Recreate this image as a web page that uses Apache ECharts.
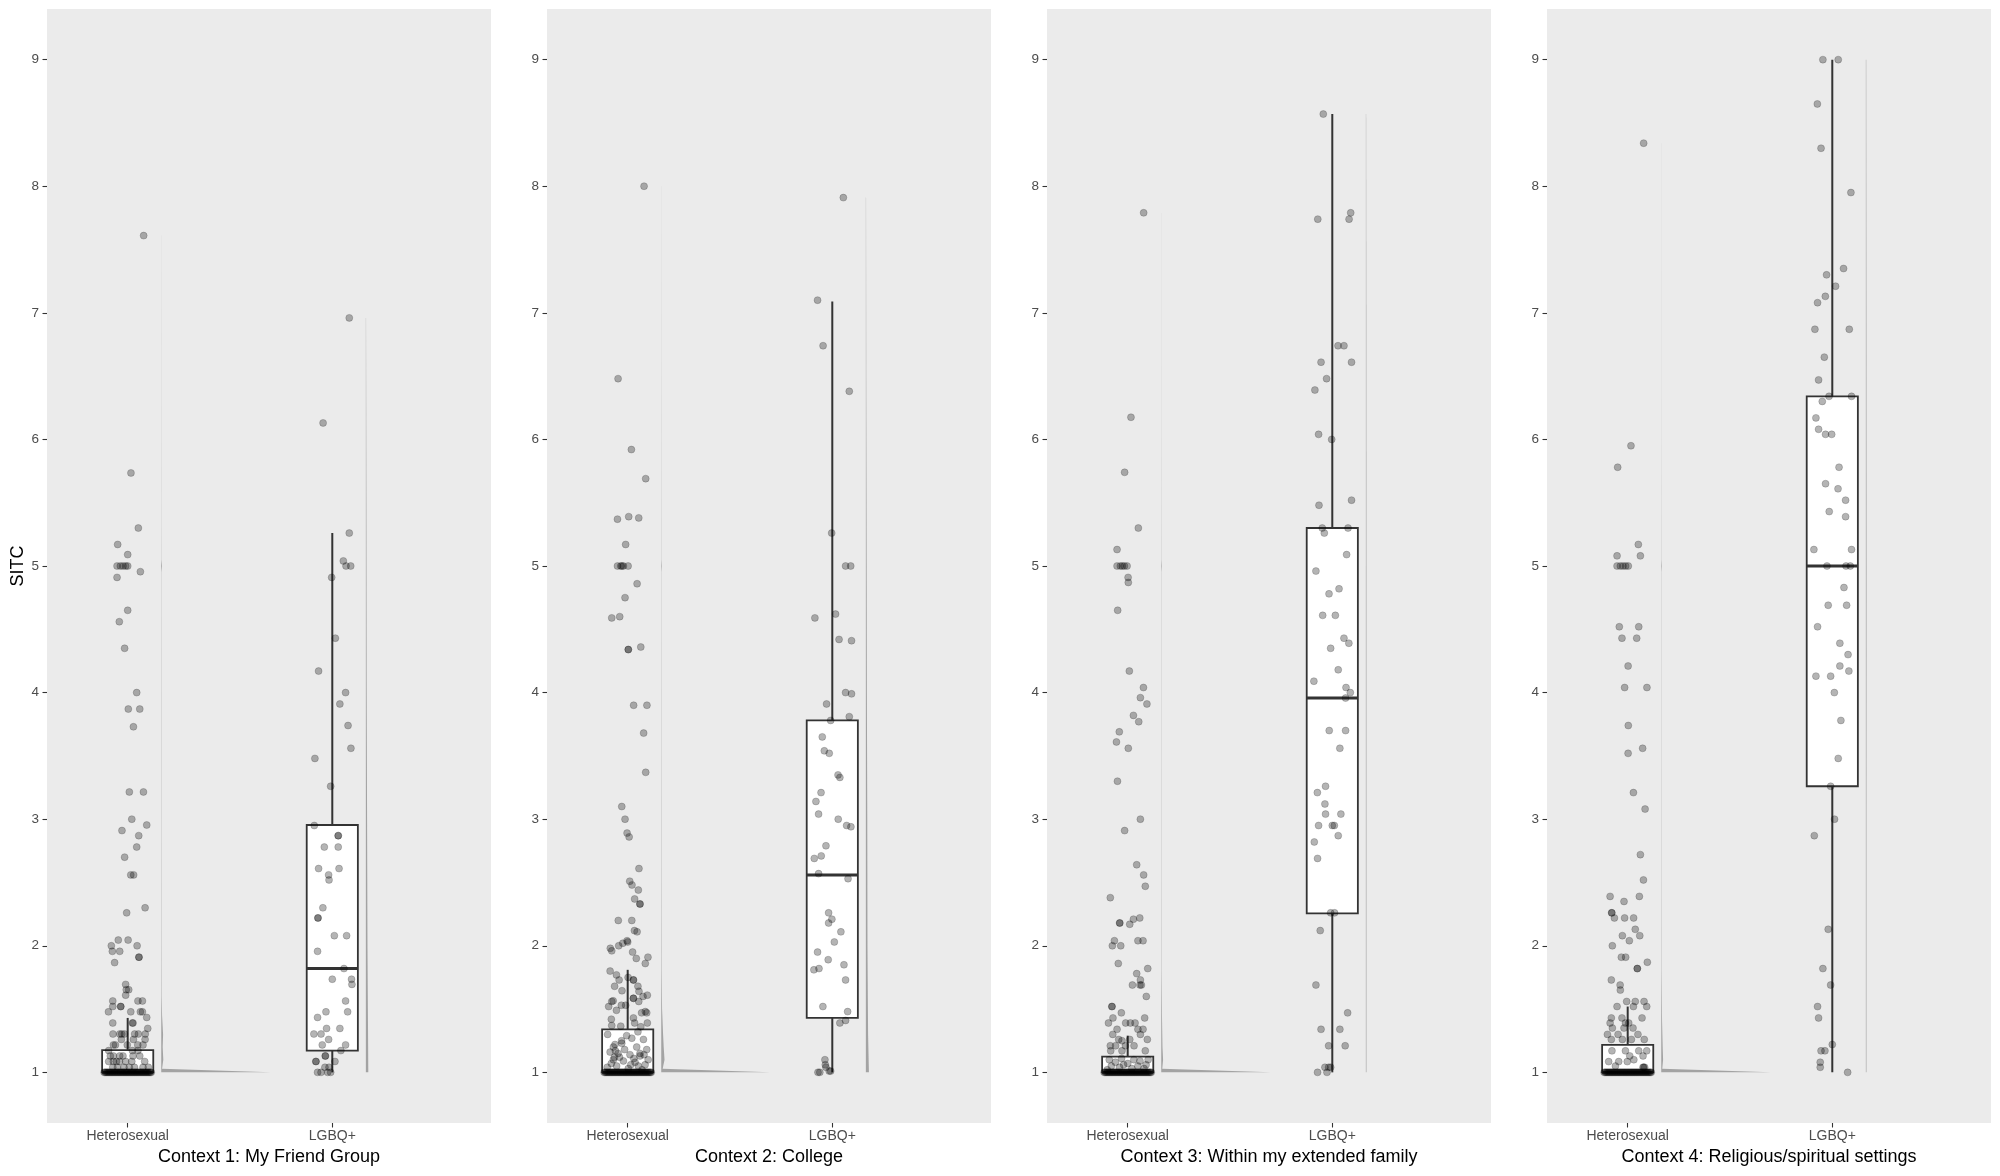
<!DOCTYPE html>
<html><head><meta charset="utf-8">
<script src="https://cdn.jsdelivr.net/npm/echarts@6/dist/echarts.min.js"></script>
<style>html,body{margin:0;padding:0;background:#fff}#c{width:2000px;height:1176px}</style>
</head><body><div id="c"></div><script>
const categories = ['Heterosexual', 'LGBQ+'];
const contexts = ['Context 1: My Friend Group', 'Context 2: College', 'Context 3: Within my extended family', 'Context 4: Religious/spiritual settings'];
const yTicks = [1, 2, 3, 4, 5, 6, 7, 8, 9];
const yLabel = 'SITC';

// boxplot stats [min, q1, median, q3, max] per context
const hetBox = [[1, 1, 1, 1.175, 1.43], [1, 1, 1, 1.34, 1.81], [1, 1, 1, 1.125, 1.29], [1, 1, 1, 1.217, 1.52]];
const lgbBox = [[1, 1.172, 1.82, 2.954, 5.26], [1, 1.43, 2.56, 3.78, 7.09], [1, 2.256, 3.957, 5.30, 8.57], [1, 3.26, 5.0, 6.34, 9.0]];

// jittered points: [jitter, value]
const tiesAtOne = [-0.115,-0.105,-0.095,-0.085,-0.075,-0.065,-0.055,-0.045,-0.035,-0.025,-0.015,-0.005,0.005,0.015,0.025,0.035,0.045,0.055,0.065,0.075,0.085,0.095,0.105,0.115,
  -0.11,-0.1,-0.09,-0.08,-0.07,-0.06,-0.05,-0.04,-0.03,-0.02,-0.01,0,0.01,0.02,0.03,0.04,0.05,0.06,0.07,0.08,0.09,0.1,0.11];

const het1 = [[0.078,7.61],[0.016,5.735],[0.052,5.30],[-0.049,5.17],[0.00,5.09],[-0.052,5.0],[-0.036,5.0],[-0.023,5.0],[-0.01,5.0],[0.0,5.0],[0.062,4.955],[-0.052,4.91],[0.0,4.65],[-0.041,4.56],[-0.015,4.35],[0.044,4.0],[0.003,3.87],[0.059,3.87],[0.028,3.73],[0.008,3.215],[0.077,3.215],[0.02,3.0],[0.093,2.954],[-0.028,2.91],[0.054,2.87],[0.044,2.78],[-0.015,2.70],[0.015,2.56],[0.029,2.56],[0.085,2.30],[-0.005,2.26],[-0.046,2.045],[0.002,2.045],[-0.08,2.0],[0.046,2.0],[-0.075,1.956],[-0.039,1.956],[0.055,1.91],[0.055,1.91],[-0.064,1.867],[-0.01,1.695],[0.005,1.653],[-0.007,1.653],[-0.01,1.61],[-0.073,1.564],[0.05,1.564],[0.072,1.564],[-0.034,1.52],[-0.034,1.52],[-0.073,1.52],[-0.094,1.478],[0.015,1.478],[0.062,1.478],[0.072,1.478],[0.093,1.434],[-0.073,1.39],[0.023,1.39],[0.026,1.39],[0.098,1.347],
  [-0.072,1.303],[-0.039,1.303],[-0.029,1.303],[-0.016,1.303],[0.034,1.303],[0.052,1.303],[0.086,1.303],[-0.031,1.26],[0.028,1.26],[0.085,1.26],[-0.07,1.217],[-0.06,1.217],[-0.002,1.217],[0.049,1.217],[0.075,1.217],[-0.093,1.172],[0.023,1.172],[0.05,1.172],
  [-0.085,1.13],[-0.039,1.13],[-0.023,1.13],[0.026,1.13],[0.059,1.13],[-0.07,1.13],[-0.093,1.086],[-0.055,1.086],[-0.01,1.086],[0.02,1.086],[0.083,1.086],[-0.07,1.086],[-0.04,1.086],[-0.073,1.04],[-0.018,1.04],[0.008,1.04],[0.033,1.04],[0.075,1.04],[0.101,1.04],[-0.05,1.04]];
const lgb1 = [[0.083,6.96],[-0.045,6.13],[0.083,5.26],[0.054,5.04],[0.067,5.0],[0.09,5.0],[-0.003,4.91],[0.015,4.43],[-0.067,4.17],[0.065,4.0],[0.037,3.91],[0.077,3.74],[0.091,3.56],[-0.085,3.48],[-0.008,3.26],[-0.088,2.95],[0.029,2.87],[0.029,2.87],[-0.039,2.78],[0.029,2.78],[-0.067,2.61],[-0.018,2.56],[-0.016,2.52],[0.033,2.61],[-0.046,2.30],[-0.07,2.22],[-0.07,2.22],[0.01,2.08],[0.07,2.08],[-0.072,1.956],[0.057,1.82],[0.0,1.736],[0.094,1.736],[0.096,1.695],[0.065,1.564],[-0.031,1.478],[0.075,1.478],[-0.072,1.434],[-0.028,1.347],[0.037,1.347],[-0.09,1.303],[-0.055,1.303],[-0.018,1.26],[-0.049,1.217],[0.065,1.217],[0.042,1.172],[-0.034,1.13],[-0.034,1.13],[-0.08,1.086],[-0.08,1.086],[0.013,1.086],[-0.036,1.04],[-0.016,1.04],[-0.072,1.0],[-0.055,1.0],[-0.023,1.0],[-0.008,1.0]];

const het2 = [[0.08,8.0],[-0.047,6.48],[0.018,5.92],[0.088,5.69],[-0.05,5.37],[0.005,5.39],[0.054,5.38],[-0.01,5.17],[-0.05,5.0],[-0.034,5.0],[-0.028,5.0],[-0.021,5.0],[0.002,5.0],[0.046,4.86],[-0.013,4.75],[-0.078,4.59],[-0.039,4.60],[0.003,4.34],[0.003,4.34],[0.064,4.36],[0.029,3.90],[0.094,3.90],[0.078,3.68],[0.088,3.37],[-0.029,3.10],[-0.013,3.0],[-0.003,2.89],[0.007,2.86],[0.055,2.61],[0.01,2.51],[0.021,2.48],[0.052,2.44],[0.034,2.37],[0.06,2.33],[0.06,2.33],[-0.046,2.20],[0.02,2.20],[0.033,2.12],[0.046,2.11],[-0.085,1.98],[-0.078,1.96],[-0.044,2.0],[-0.024,2.02],[-0.003,2.04],[0.0,2.03],[0.024,1.95],[0.042,1.90],[0.086,1.86],[0.099,1.91],[-0.086,1.80],[-0.055,1.77],[-0.042,1.73],[0.002,1.75],[0.028,1.73],[0.028,1.73],[0.05,1.68],[-0.064,1.68],[-0.028,1.645],[0.055,1.64],[0.096,1.61],[-0.078,1.56],[-0.071,1.565],[-0.093,1.52],[-0.031,1.53],[-0.01,1.53],[0.028,1.585],[0.028,1.585],[0.054,1.56],[0.075,1.6],[-0.055,1.49],[0.068,1.47],[0.086,1.48],[0.093,1.47],[-0.08,1.42],[-0.078,1.37],[-0.034,1.365],[0.028,1.43],[0.034,1.39],[0.096,1.39],[0.064,1.36],
  [-0.098,1.30],[-0.005,1.29],[0.02,1.27],[0.077,1.26],[-0.062,1.22],[-0.029,1.23],[0.044,1.2],[0.093,1.18],[-0.086,1.16],[-0.047,1.15],[0.011,1.14],[0.06,1.13],[-0.07,1.1],[-0.021,1.09],[0.036,1.08],[0.085,1.06],[-0.054,1.05],[0.003,1.03],[0.052,1.05],[-0.07,1.2],[-0.06,1.17],[0.06,1.15],[-0.04,1.12],[0.03,1.11],[-0.08,1.07],[0.1,1.1],[-0.1,1.04],[0.07,1.02],[-0.03,1.25],[0.05,1.32],[-0.065,1.12],[0.015,1.06],[0.08,1.14],[-0.015,1.18]];
const lgb2 = [[0.054,7.91],[-0.072,7.10],[-0.045,6.74],[0.083,6.38],[-0.003,5.26],[0.065,5.0],[0.09,5.0],[-0.085,4.59],[0.016,4.62],[0.033,4.42],[0.094,4.41],[0.065,4.0],[0.094,3.99],[-0.028,3.91],[-0.008,3.78],[0.083,3.81],[-0.049,3.65],[-0.039,3.54],[-0.015,3.52],[0.028,3.35],[0.037,3.33],[-0.055,3.21],[-0.08,3.14],[-0.067,3.04],[0.029,3.0],[0.07,2.95],[0.091,2.94],[-0.031,2.79],[-0.054,2.71],[-0.088,2.69],[-0.067,2.57],[0.077,2.53],[-0.018,2.26],[-0.018,2.18],[-0.002,2.21],[0.042,2.11],[0.01,2.03],[-0.072,1.95],[-0.02,1.89],[0.057,1.85],[-0.09,1.81],[-0.065,1.82],[0.065,1.73],[-0.046,1.52],[0.075,1.48],[0.037,1.39],[0.065,1.41],[-0.036,1.1],[-0.034,1.06],[-0.031,1.04],[-0.015,1.01],[-0.008,1.01],[-0.07,1.0],[-0.061,1.0]];

const het3 = [[0.078,7.79],[0.016,6.175],[-0.015,5.74],[0.052,5.30],[-0.052,5.13],[-0.052,5.0],[-0.036,5.0],[-0.026,5.0],[-0.016,5.0],[-0.003,5.0],[0.002,4.91],[0.003,4.87],[-0.049,4.65],[0.008,4.17],[0.077,4.04],[0.062,3.96],[0.094,3.91],[0.028,3.82],[0.054,3.77],[-0.041,3.69],[-0.055,3.61],[0.003,3.56],[-0.05,3.30],[0.062,3.0],[-0.015,2.91],[0.044,2.64],[0.078,2.56],[0.086,2.47],[-0.085,2.38],[-0.039,2.18],[-0.039,2.18],[0.028,2.21],[0.059,2.22],[0.01,2.17],[-0.065,2.04],[-0.075,2.0],[-0.034,2.0],[0.05,2.04],[0.075,2.04],[-0.046,1.86],[0.044,1.78],[0.098,1.82],[0.023,1.69],[0.06,1.69],[0.067,1.69],[0.062,1.73],[0.091,1.60],[-0.077,1.52],[-0.077,1.52],[-0.072,1.43],[-0.031,1.47],[-0.094,1.39],[-0.01,1.39],[0.013,1.39],[0.036,1.39],[0.083,1.43],[-0.052,1.34],[0.05,1.34],[0.062,1.30],[0.075,1.34],[-0.073,1.30],[0.096,1.26],[-0.044,1.26],[-0.028,1.25],[0.01,1.26],[-0.085,1.21],[-0.059,1.21],[-0.011,1.21],[0.031,1.21],[-0.083,1.17],[-0.028,1.17],[0.086,1.17],
  [-0.09,1.1],[-0.06,1.08],[-0.03,1.11],[0.0,1.07],[0.03,1.1],[0.06,1.09],[0.09,1.06],[-0.08,1.05],[-0.04,1.04],[0.02,1.03],[0.05,1.05],[0.08,1.03],[-0.1,1.02],[0.1,1.1],[-0.02,1.06]];
const lgb3 = [[-0.044,8.57],[-0.071,7.74],[0.082,7.74],[0.09,7.79],[0.028,6.74],[0.057,6.74],[-0.055,6.61],[0.094,6.61],[-0.028,6.48],[-0.085,6.39],[-0.067,6.04],[-0.003,6.0],[0.094,5.52],[-0.065,5.48],[-0.049,5.30],[-0.039,5.26],[0.077,5.30],[0.07,5.09],[-0.08,4.96],[-0.016,4.78],[0.033,4.82],[-0.047,4.61],[0.015,4.61],[0.057,4.43],[0.081,4.39],[-0.008,4.35],[0.029,4.18],[-0.09,4.09],[0.067,4.04],[0.088,4.0],[0.065,3.957],[-0.015,3.70],[0.065,3.70],[0.037,3.56],[-0.033,3.26],[-0.073,3.21],[-0.036,3.12],[-0.033,3.04],[0.042,3.04],[-0.067,2.95],[0.0,2.95],[0.01,2.95],[0.029,2.87],[-0.088,2.82],[-0.072,2.69],[-0.008,2.26],[0.011,2.26],[-0.059,2.12],[-0.08,1.69],[0.075,1.47],[-0.055,1.34],[0.037,1.34],[-0.018,1.21],[0.063,1.21],[-0.036,1.04],[-0.018,1.04],[-0.008,1.04],[-0.072,1.0],[-0.026,1.0]];

const het4 = [[0.078,8.34],[0.016,5.95],[-0.049,5.78],[0.052,5.17],[-0.052,5.08],[0.062,5.08],[-0.052,5.0],[-0.036,5.0],[-0.023,5.0],[-0.01,5.0],[0.003,5.0],[-0.041,4.52],[0.054,4.52],[-0.028,4.43],[0.044,4.43],[0.002,4.21],[-0.015,4.04],[0.094,4.04],[0.003,3.74],[0.002,3.52],[0.073,3.56],[0.028,3.21],[0.085,3.08],[0.062,2.72],[0.077,2.52],[-0.086,2.39],[-0.018,2.35],[0.057,2.39],[-0.078,2.26],[-0.078,2.26],[-0.065,2.22],[-0.015,2.22],[0.029,2.22],[0.037,2.13],[-0.026,2.08],[0.008,2.04],[0.059,2.08],[-0.075,2.0],[-0.031,1.91],[-0.01,1.91],[0.047,1.82],[0.047,1.82],[0.096,1.87],[-0.08,1.73],[-0.037,1.69],[-0.036,1.65],[-0.052,1.52],[-0.005,1.56],[0.037,1.56],[0.08,1.56],[0.093,1.52],[0.028,1.52],[0.07,1.43],[-0.08,1.43],[-0.028,1.43],[-0.086,1.39],[-0.075,1.35],[-0.018,1.35],[0.026,1.35],[0.005,1.39],[-0.011,1.39],
  [-0.08,1.26],[-0.026,1.26],[0.018,1.26],[0.081,1.26],[-0.099,1.30],[-0.047,1.30],[0.05,1.30],[-0.077,1.17],[-0.011,1.17],[0.054,1.17],[0.093,1.17],[0.01,1.13],[0.075,1.13],[-0.093,1.085],[-0.044,1.085],[-0.002,1.085],[0.078,1.04],[0.075,1.04],[0.083,1.04],[-0.06,1.05],[0.03,1.1]];
const lgb4 = [[-0.046,9.0],[0.029,9.0],[-0.073,8.65],[-0.055,8.30],[0.091,7.95],[-0.028,7.30],[0.055,7.35],[0.016,7.21],[-0.034,7.13],[-0.072,7.08],[-0.085,6.87],[0.083,6.87],[-0.039,6.65],[-0.067,6.47],[-0.016,6.34],[0.094,6.34],[-0.049,6.30],[-0.08,6.17],[-0.067,6.08],[-0.033,6.04],[-0.003,6.04],[0.033,5.78],[-0.033,5.65],[0.028,5.61],[0.065,5.52],[-0.015,5.43],[0.065,5.39],[-0.09,5.13],[0.094,5.13],[-0.026,5.0],[0.067,5.0],[0.088,5.0],[0.057,4.83],[-0.02,4.69],[0.07,4.69],[-0.072,4.52],[0.037,4.39],[0.077,4.30],[0.037,4.21],[0.081,4.17],[-0.08,4.13],[-0.008,4.13],[0.01,4.0],[0.042,3.78],[0.029,3.48],[-0.008,3.26],[0.011,3.0],[-0.088,2.87],[-0.02,2.13],[-0.046,1.82],[-0.008,1.69],[-0.072,1.52],[-0.067,1.43],[0.0,1.22],[-0.055,1.17],[-0.036,1.17],[-0.059,1.08],[-0.059,1.04],[0.075,1.0]];

// half-violin density profiles: [value, width]
const hetViolin1 = [[1.0,0.535],[1.028,0.004],[1.1,0.01],[1.2,0.007],[1.3,0.009],[1.45,0.004],[1.6,0.002],[2.0,0.0015],[3.0,0.0012],[4.0,0.0012],[4.95,0.001],[5.0,0.004],[5.05,0.001],[5.3,0.0008],[7.61,0.0003]];
const hetViolin2 = [[1.0,0.532],[1.028,0.007],[1.1,0.016],[1.2,0.012],[1.3,0.009],[1.5,0.004],[1.8,0.002],[2.5,0.0015],[3.5,0.0012],[4.95,0.001],[5.0,0.003],[5.05,0.001],[6.5,0.0006],[8.0,0.0003]];
const hetViolin3 = [[1.0,0.535],[1.028,0.005],[1.1,0.009],[1.2,0.006],[1.4,0.004],[1.8,0.0015],[2.5,0.0012],[4.0,0.001],[4.95,0.001],[5.0,0.003],[5.05,0.001],[6.2,0.0005],[7.79,0.0003]];
const hetViolin4 = [[1.0,0.535],[1.028,0.005],[1.1,0.009],[1.2,0.007],[1.4,0.004],[1.8,0.0015],[2.5,0.0012],[4.0,0.001],[4.95,0.001],[5.0,0.003],[5.05,0.001],[6.0,0.0005],[8.34,0.0003]];
const lgbViolin1 = [[1.0,0.012],[1.5,0.01],[2.0,0.008],[3.0,0.006],[4.0,0.004],[5.3,0.003],[6.96,0.001]];
const lgbViolin2 = [[1.0,0.015],[1.3,0.011],[2.0,0.008],[3.0,0.007],[4.0,0.005],[5.0,0.004],[6.5,0.002],[7.91,0.001]];
const lgbViolin3 = [[1.0,0.003],[3.0,0.003],[5.0,0.003],[7.0,0.0025],[8.57,0.0015]];
const lgbViolin4 = [[1.0,0.003],[3.0,0.003],[5.0,0.0035],[7.0,0.003],[9.0,0.002]];

const hetPts = [het1, het2, het3, het4];
const lgbPts = [lgb1, lgb2, lgb3, lgb4];
const hetViolins = [hetViolin1, hetViolin2, hetViolin3, hetViolin4];
const lgbViolins = [lgbViolin1, lgbViolin2, lgbViolin3, lgbViolin4];

const FONT = "'Liberation Sans', Arial, Helvetica, sans-serif";
const X_MIN = 0.6056, X_MAX = 2.7757, Y_MIN = 0.6, Y_MAX = 9.4;
const VIOLIN_NUDGE = 0.164, BOX_HALF = 0.125;

const grids = [], xAxes = [], yAxes = [], series = [];
for (let i = 0; i < 4; i++) {
  grids.push({left: 47 + 500 * i, top: 9, width: 444, height: 1114, show: true, backgroundColor: '#EBEBEB', borderWidth: 0});
  xAxes.push({
    type: 'value', gridIndex: i, min: X_MIN, max: X_MAX,
    splitLine: {show: false}, axisLine: {show: false},
    axisTick: {show: true, customValues: [1, 2], length: 4.5, lineStyle: {color: '#333333', width: 1.1}},
    axisLabel: {customValues: [1, 2], formatter: v => categories[Math.round(v) - 1], color: '#4D4D4D', fontSize: 14, fontFamily: FONT, margin: 6},
    name: contexts[i], nameLocation: 'middle', nameGap: 22,
    nameTextStyle: {color: '#000000', fontSize: 18, fontFamily: FONT}
  });
  yAxes.push({
    type: 'value', gridIndex: i, min: Y_MIN, max: Y_MAX,
    splitLine: {show: false}, axisLine: {show: false},
    axisTick: {show: true, customValues: yTicks, length: 4.5, lineStyle: {color: '#333333', width: 1.1}},
    axisLabel: {customValues: yTicks, color: '#4D4D4D', fontSize: 13.5, fontFamily: FONT, margin: 8},
    name: i === 0 ? yLabel : '', nameLocation: 'middle', nameRotate: 90, nameGap: 20,
    nameTextStyle: {color: '#000000', fontSize: 18, fontFamily: FONT}
  });

  // half violins
  [[1, hetViolins[i]], [2, lgbViolins[i]]].forEach(([cat, prof]) => {
    const base = cat + VIOLIN_NUDGE;
    series.push({
      type: 'custom', xAxisIndex: i, yAxisIndex: i, silent: true, z: 1,
      data: [[base, prof[0][0]]],
      renderItem: function (params, api) {
        const pts = [api.coord([base, prof[0][0]])];
        prof.forEach(p => pts.push(api.coord([base + p[1], p[0]])));
        pts.push(api.coord([base, prof[prof.length - 1][0]]));
        return {type: 'polygon', shape: {points: pts}, style: {fill: '#A3A3A3', stroke: null}};
      }
    });
  });

  // boxes
  series.push({
    type: 'custom', xAxisIndex: i, yAxisIndex: i, silent: true, z: 2,
    encode: {x: 0, y: [1, 2, 3, 4, 5]},
    data: [[1].concat(hetBox[i]), [2].concat(lgbBox[i])],
    renderItem: function (params, api) {
      const x = api.value(0), mn = api.value(1), q1 = api.value(2), md = api.value(3), q3 = api.value(4), mx = api.value(5);
      const tl = api.coord([x - BOX_HALF, q3]), br = api.coord([x + BOX_HALF, q1]);
      const ml = api.coord([x - BOX_HALF, md]), mr = api.coord([x + BOX_HALF, md]);
      const top = api.coord([x, mx]), q3c = api.coord([x, q3]), q1c = api.coord([x, q1]), bot = api.coord([x, mn]);
      const st = {stroke: '#333333', lineWidth: 2};
      return {type: 'group', children: [
        {type: 'line', shape: {x1: top[0], y1: top[1], x2: q3c[0], y2: q3c[1]}, style: st},
        {type: 'line', shape: {x1: q1c[0], y1: q1c[1], x2: bot[0], y2: bot[1]}, style: st},
        {type: 'rect', shape: {x: tl[0], y: tl[1], width: br[0] - tl[0], height: br[1] - tl[1]}, style: {fill: '#FFFFFF', stroke: '#333333', lineWidth: 1.8}},
        {type: 'line', shape: {x1: ml[0], y1: ml[1], x2: mr[0], y2: mr[1]}, style: {stroke: '#333333', lineWidth: 3}}
      ]};
    }
  });

  // jittered points
  const pts = hetPts[i].map(p => [1 + p[0], p[1]])
    .concat(tiesAtOne.map(o => [1 + o, 1.0]))
    .concat(lgbPts[i].map(p => [2 + p[0], p[1]]));
  series.push({
    type: 'scatter', xAxisIndex: i, yAxisIndex: i, silent: true, z: 3,
    symbol: 'circle', symbolSize: 7, data: pts,
    itemStyle: {color: 'rgba(0,0,0,0.37)', borderColor: 'rgba(0,0,0,0.28)', borderWidth: 0.8}
  });
}

const chart = echarts.init(document.getElementById('c'), null, {renderer: 'canvas'});
chart.setOption({animation: false, backgroundColor: '#FFFFFF', grid: grids, xAxis: xAxes, yAxis: yAxes, series: series});
</script></body></html>
